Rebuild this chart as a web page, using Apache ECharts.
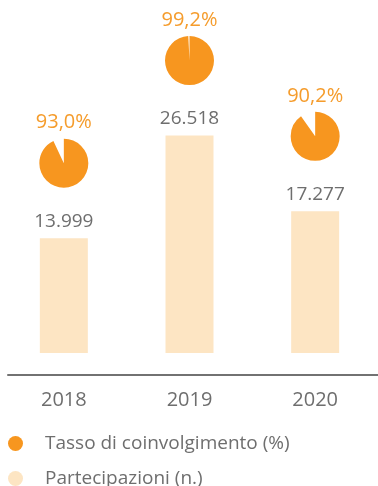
<!DOCTYPE html>
<html>
<head>
<meta charset="utf-8">
<script src="https://cdn.jsdelivr.net/npm/echarts@6/dist/echarts.min.js"></script>
<style>
  html, body { margin: 0; padding: 0; background: #ffffff; }
  #chart { width: 378px; height: 486px; }
</style>
</head>
<body>
<div id="chart"></div>
<script>
// Anni, partecipazioni (n.) e tasso di coinvolgimento (%)
var years = ['2018', '2019', '2020'];
var participations = [13999, 26518, 17277];
var engagementRate = [93.0, 99.2, 90.2];

var ORANGE = '#F7961F';
var ORANGE_TEXT = '#F59C2C';
var PEACH = '#FDE5C3';
var GREY_TEXT = '#6e6e6e';
var FONT = '"Open Sans", "Noto Sans", sans-serif';

function thousands(n) {
  return String(n).replace(/\B(?=(\d{3})+(?!\d))/g, '.');
}
function percentIt(p) {
  return p.toFixed(1).replace('.', ',') + '%';
}

var pieData = years.map(function (y, i) {
  return [i, participations[i], engagementRate[i]];
});

var chart = echarts.init(document.getElementById('chart'), null, { renderer: 'canvas' });

chart.setOption({
  animation: false,
  backgroundColor: '#ffffff',
  textStyle: { fontFamily: FONT },
  grid: [
    { left: 1, width: 381, top: 107, height: 246 },
    { left: 8, right: 0, top: 300, height: 75 }
  ],
  xAxis: [
    {
      type: 'category',
      gridIndex: 0,
      data: years,
      axisLine: { show: false },
      axisTick: { show: false },
      axisLabel: { color: GREY_TEXT, fontSize: 20, fontFamily: FONT, margin: 37 }
    },
    {
      type: 'category',
      gridIndex: 1,
      data: years,
      axisLine: { show: true, lineStyle: { color: '#727272', width: 2 } },
      axisTick: { show: false },
      axisLabel: { show: false }
    }
  ],
  yAxis: [
    { type: 'value', gridIndex: 0, min: 0, max: 30000, show: false, splitLine: { show: false } },
    { type: 'value', gridIndex: 1, show: false, splitLine: { show: false } }
  ],
  legend: {
    orient: 'vertical',
    left: 8,
    top: 434,
    height: 80,
    padding: 0,
    icon: 'circle',
    itemWidth: 15,
    itemHeight: 15,
    itemGap: 16,
    textStyle: { color: GREY_TEXT, fontSize: 19, lineHeight: 15, fontFamily: FONT, padding: [0, 0, 0, 17] },
    data: ['Tasso di coinvolgimento (%)', 'Partecipazioni (n.)']
  },
  series: [
    {
      name: 'Partecipazioni (n.)',
      type: 'bar',
      xAxisIndex: 0,
      yAxisIndex: 0,
      barWidth: 48,
      data: participations,
      itemStyle: { color: PEACH },
      label: {
        show: true,
        position: 'top',
        distance: 7,
        color: GREY_TEXT,
        fontSize: 19,
        fontFamily: FONT,
        formatter: function (p) { return thousands(p.value); }
      }
    },
    {
      name: 'Tasso di coinvolgimento (%)',
      type: 'custom',
      xAxisIndex: 0,
      yAxisIndex: 0,
      itemStyle: { color: ORANGE },
      encode: { x: 0, y: 1 },
      data: pieData,
      renderItem: function (params, api) {
        // small pie placed above the top of each bar
        var top = api.coord([api.value(0), api.value(1)]);
        var cx = top[0];
        var cy = top[1] - 75;
        var pct = api.value(2);
        var start = -Math.PI / 2;
        return {
          type: 'group',
          children: [
            {
              type: 'sector',
              shape: {
                cx: cx, cy: cy, r: 24.5, r0: 0,
                startAngle: start,
                endAngle: start + 2 * Math.PI * pct / 100,
                clockwise: true
              },
              style: { fill: ORANGE }
            },
            {
              type: 'text',
              x: cx,
              y: cy - 40.5,
              style: {
                text: percentIt(pct),
                fill: ORANGE_TEXT,
                fontSize: 20,
                fontFamily: FONT,
                align: 'center',
                verticalAlign: 'middle'
              }
            }
          ]
        };
      }
    }
  ]
});
</script>
</body>
</html>
